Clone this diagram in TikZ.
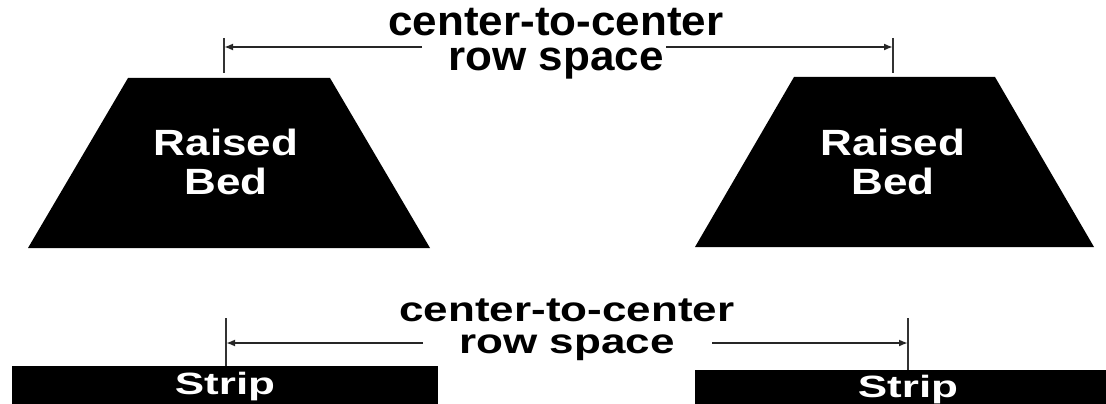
\documentclass[tikz,border=0pt]{standalone}
\usepackage{fontspec}
\setmainfont{Liberation Sans}
\usetikzlibrary{arrows.meta}
\begin{document}
\begin{tikzpicture}[x=1pt,y=-1pt,
  dimline/.style={line width=1.8pt,draw=black!85,-{Latex[length=9pt,width=7pt]}},
  tickline/.style={line width=1.6pt,draw=black!80},
  lbl/.style={inner sep=0pt,align=center,font=\bfseries\fontsize{44}{37}\selectfont},
  wlbl/.style={lbl,text=white},
  shapefill/.style={fill=black}]
\useasboundingbox (0,0) rectangle (1106,404);
% raised beds
\fill[shapefill] (28,248) -- (128,78) -- (330,78) -- (430,248) -- cycle;
\fill[shapefill] (695,247) -- (794,77) -- (995,77) -- (1094,247) -- cycle;
\node[wlbl,yscale=0.83,font=\bfseries\fontsize{44}{47}\selectfont] (bedL) at (226,162) {Raised\\Bed};
\node[wlbl,yscale=0.83,font=\bfseries\fontsize{44}{47}\selectfont] (bedR) at (893,162) {Raised\\Bed};
% strips
\fill[shapefill] (12,366) rectangle (438,404);
\fill[shapefill] (695,370) rectangle (1106,404);
\node[wlbl,yscale=0.7] (stripL) at (225,387) {Strip};
\node[wlbl,yscale=0.7] (stripR) at (908,390) {Strip};
% top dimension
\coordinate (t1a) at (224,38); \coordinate (t1b) at (224,73);
\coordinate (t2a) at (893,38); \coordinate (t2b) at (893,73);
\coordinate (t1) at (224,47); \coordinate (t2) at (893,47);
\coordinate (s1) at (422,47); \coordinate (s2) at (666,47);
\draw[tickline] (t1a) -- (t1b);
\draw[tickline] (t2a) -- (t2b);
\draw[dimline] (s1) -- (t1);
\draw[dimline] (s2) -- (t2);
\node[lbl,yscale=0.95] (topTxt) at (556,44) {center-to-center\\row space};
% bottom dimension
\coordinate (b1a) at (226,318); \coordinate (b1b) at (226,366);
\coordinate (b2a) at (908,318); \coordinate (b2b) at (908,370);
\coordinate (b1) at (226,343); \coordinate (b2) at (908,343);
\coordinate (r1) at (423,343); \coordinate (r2) at (712,343);
\draw[tickline] (b1a) -- (b1b);
\draw[tickline] (b2a) -- (b2b);
\draw[dimline] (r1) -- (b1);
\draw[dimline] (r2) -- (b2);
\node[lbl,yscale=0.79,font=\bfseries\fontsize{44}{40.5}\selectfont] (botTxt) at (567,330) {center-to-center\\row space};
\end{tikzpicture}
\end{document}
